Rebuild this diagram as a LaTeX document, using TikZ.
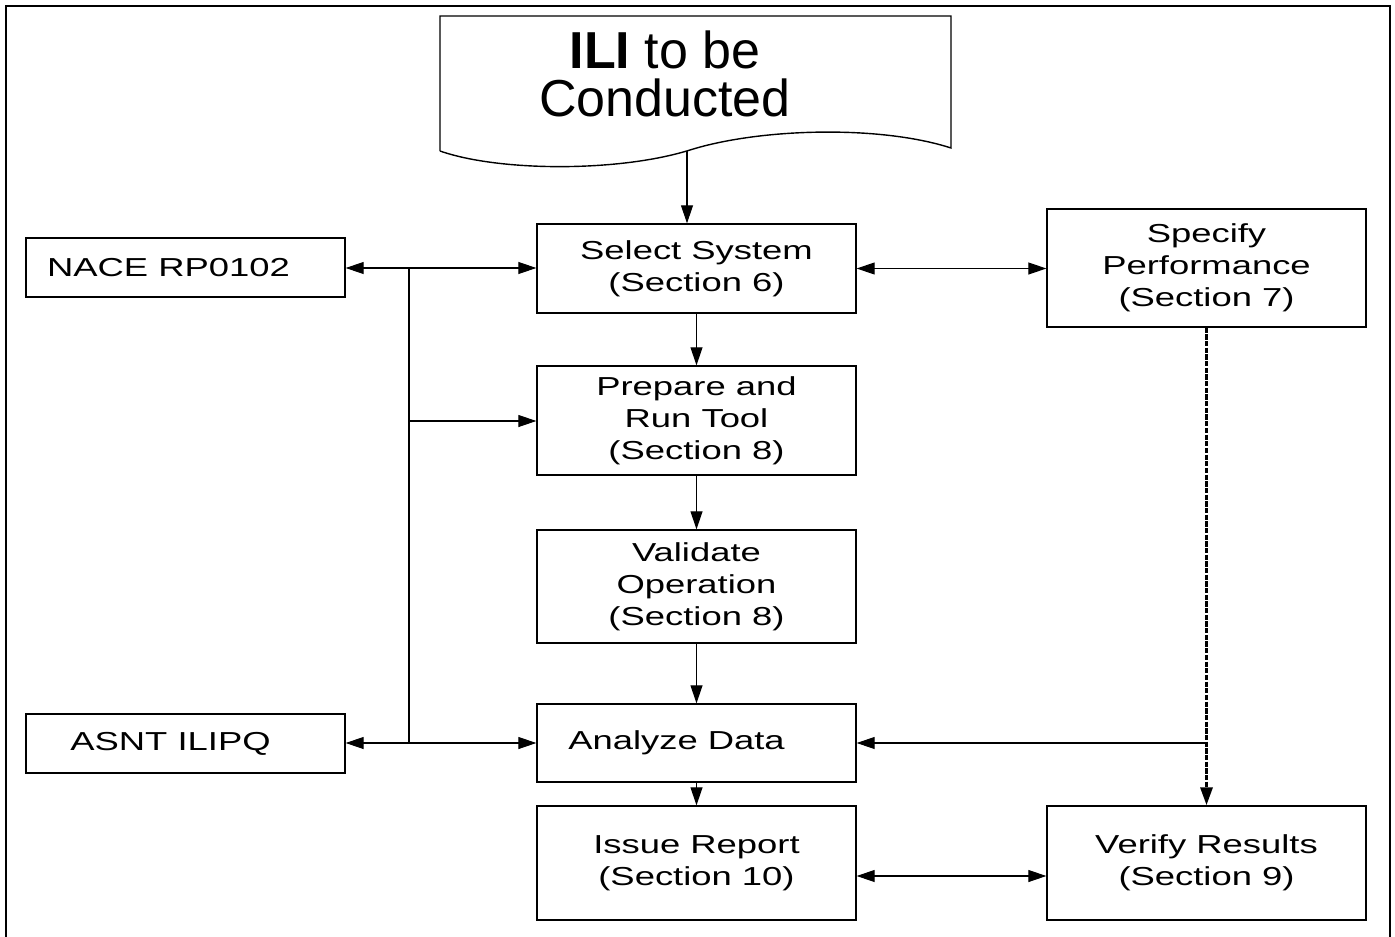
\documentclass[tikz,border=0pt]{standalone}
\usepackage{fontspec}
\setmainfont{Liberation Sans}
\newfontfamily\boxfont[FakeStretch=1.4]{Liberation Sans}
\usetikzlibrary{arrows.meta, positioning}
\tikzset{
    stepbox/.style={draw, line width=0.8pt, minimum width=6.38cm, align=center, inner sep=0pt,
        font=\boxfont\fontsize{14.8}{18.2}\selectfont},
    link/.style={line width=0.6pt, -{Triangle[length=0.36cm, width=0.24cm]}},
    linkboth/.style={line width=0.6pt, {Triangle[length=0.36cm, width=0.24cm]}-{Triangle[length=0.36cm, width=0.24cm]}},
    bus/.style={line width=0.9pt},
    feed/.style={line width=1.8pt, dash pattern=on 3pt off 0.8pt}
}

\begin{document}
\begin{tikzpicture}[x=0.02cm, y=-0.02cm]
    \useasboundingbox (0,0) rectangle (1395,936);
    \draw[line width=1.2pt] (6,940) -- (6,6) -- (1390,6) -- (1390,940);
    % start document
    \draw[line width=0.8pt] (440,151) -- (440,16) -- (951,16) -- (951,148)
        .. controls (880,125) and (760,128) .. (690,150)
        .. controls (620,172) and (500,172) .. (440,151);
    \node[font=\fontsize{29.6}{27.3}\selectfont, align=center] (ili) at (665,74) {\textbf{ILI} to be\\Conducted};
    \coordinate (ilib) at (687,151);

    \node[stepbox, minimum height=1.78cm] (sel) at (696.5,268.5) {Select System\\(Section 6)};
    \node[stepbox, minimum height=2.36cm] (spec) at (1206.5,268) {Specify\\Performance\\(Section 7)};
    \node[stepbox, minimum height=1.18cm] (nace) at (185.5,267.5) {NACE RP0102\hspace*{0.68cm}};
    \node[stepbox, minimum height=2.18cm] (prep) at (696.5,420.5) {Prepare and\\Run Tool\\(Section 8)};
    \node[stepbox, minimum height=2.26cm] (valid) at (696.5,586.5) {Validate\\Operation\\(Section 8)};
    \node[stepbox, minimum height=1.56cm] (anal) at (696.5,743) {Analyze Data\hspace*{0.8cm}};
    \node[stepbox, minimum height=1.18cm] (asnt) at (185.5,743.5) {ASNT ILIPQ\hspace*{0.6cm}};
    \node[stepbox, minimum height=2.28cm] (issue) at (696.5,863) {Issue Report\\(Section 10)};
    \node[stepbox, minimum height=2.28cm] (verify) at (1206.5,863) {Verify Results\\(Section 9)};

    \coordinate (bt) at (409,268);
    \coordinate (bm) at (409,421);
    \coordinate (bb) at (409,743);
    \coordinate (tap) at (1206.5,743);

    \draw[link] (ilib) -- (ilib |- sel.north);
    \draw[link] (sel) -- (prep);
    \draw[link] (prep) -- (valid);
    \draw[link] (valid) -- (anal);
    \draw[link] (anal) -- (issue);
    \draw[linkboth] (sel.east) -- (sel.east -| spec.west);
    \draw[linkboth] ([yshift=-0.26cm]issue.east) -- ([yshift=-0.26cm]verify.west);

    \draw[bus] (bt) -- (bb);
    \draw[link] (bt) -- (bt -| nace.east);
    \draw[link] (bt) -- (bt -| sel.west);
    \draw[link] (bm) -- (bm -| prep.west);
    \draw[link] (bb) -- (bb -| asnt.east);
    \draw[link] (bb) -- (bb -| anal.west);

    \draw[feed, -{Triangle[length=0.36cm, width=0.24cm]}] (spec) -- (verify);
    \draw[link] (tap) -- (anal.east);
\end{tikzpicture}
\end{document}
